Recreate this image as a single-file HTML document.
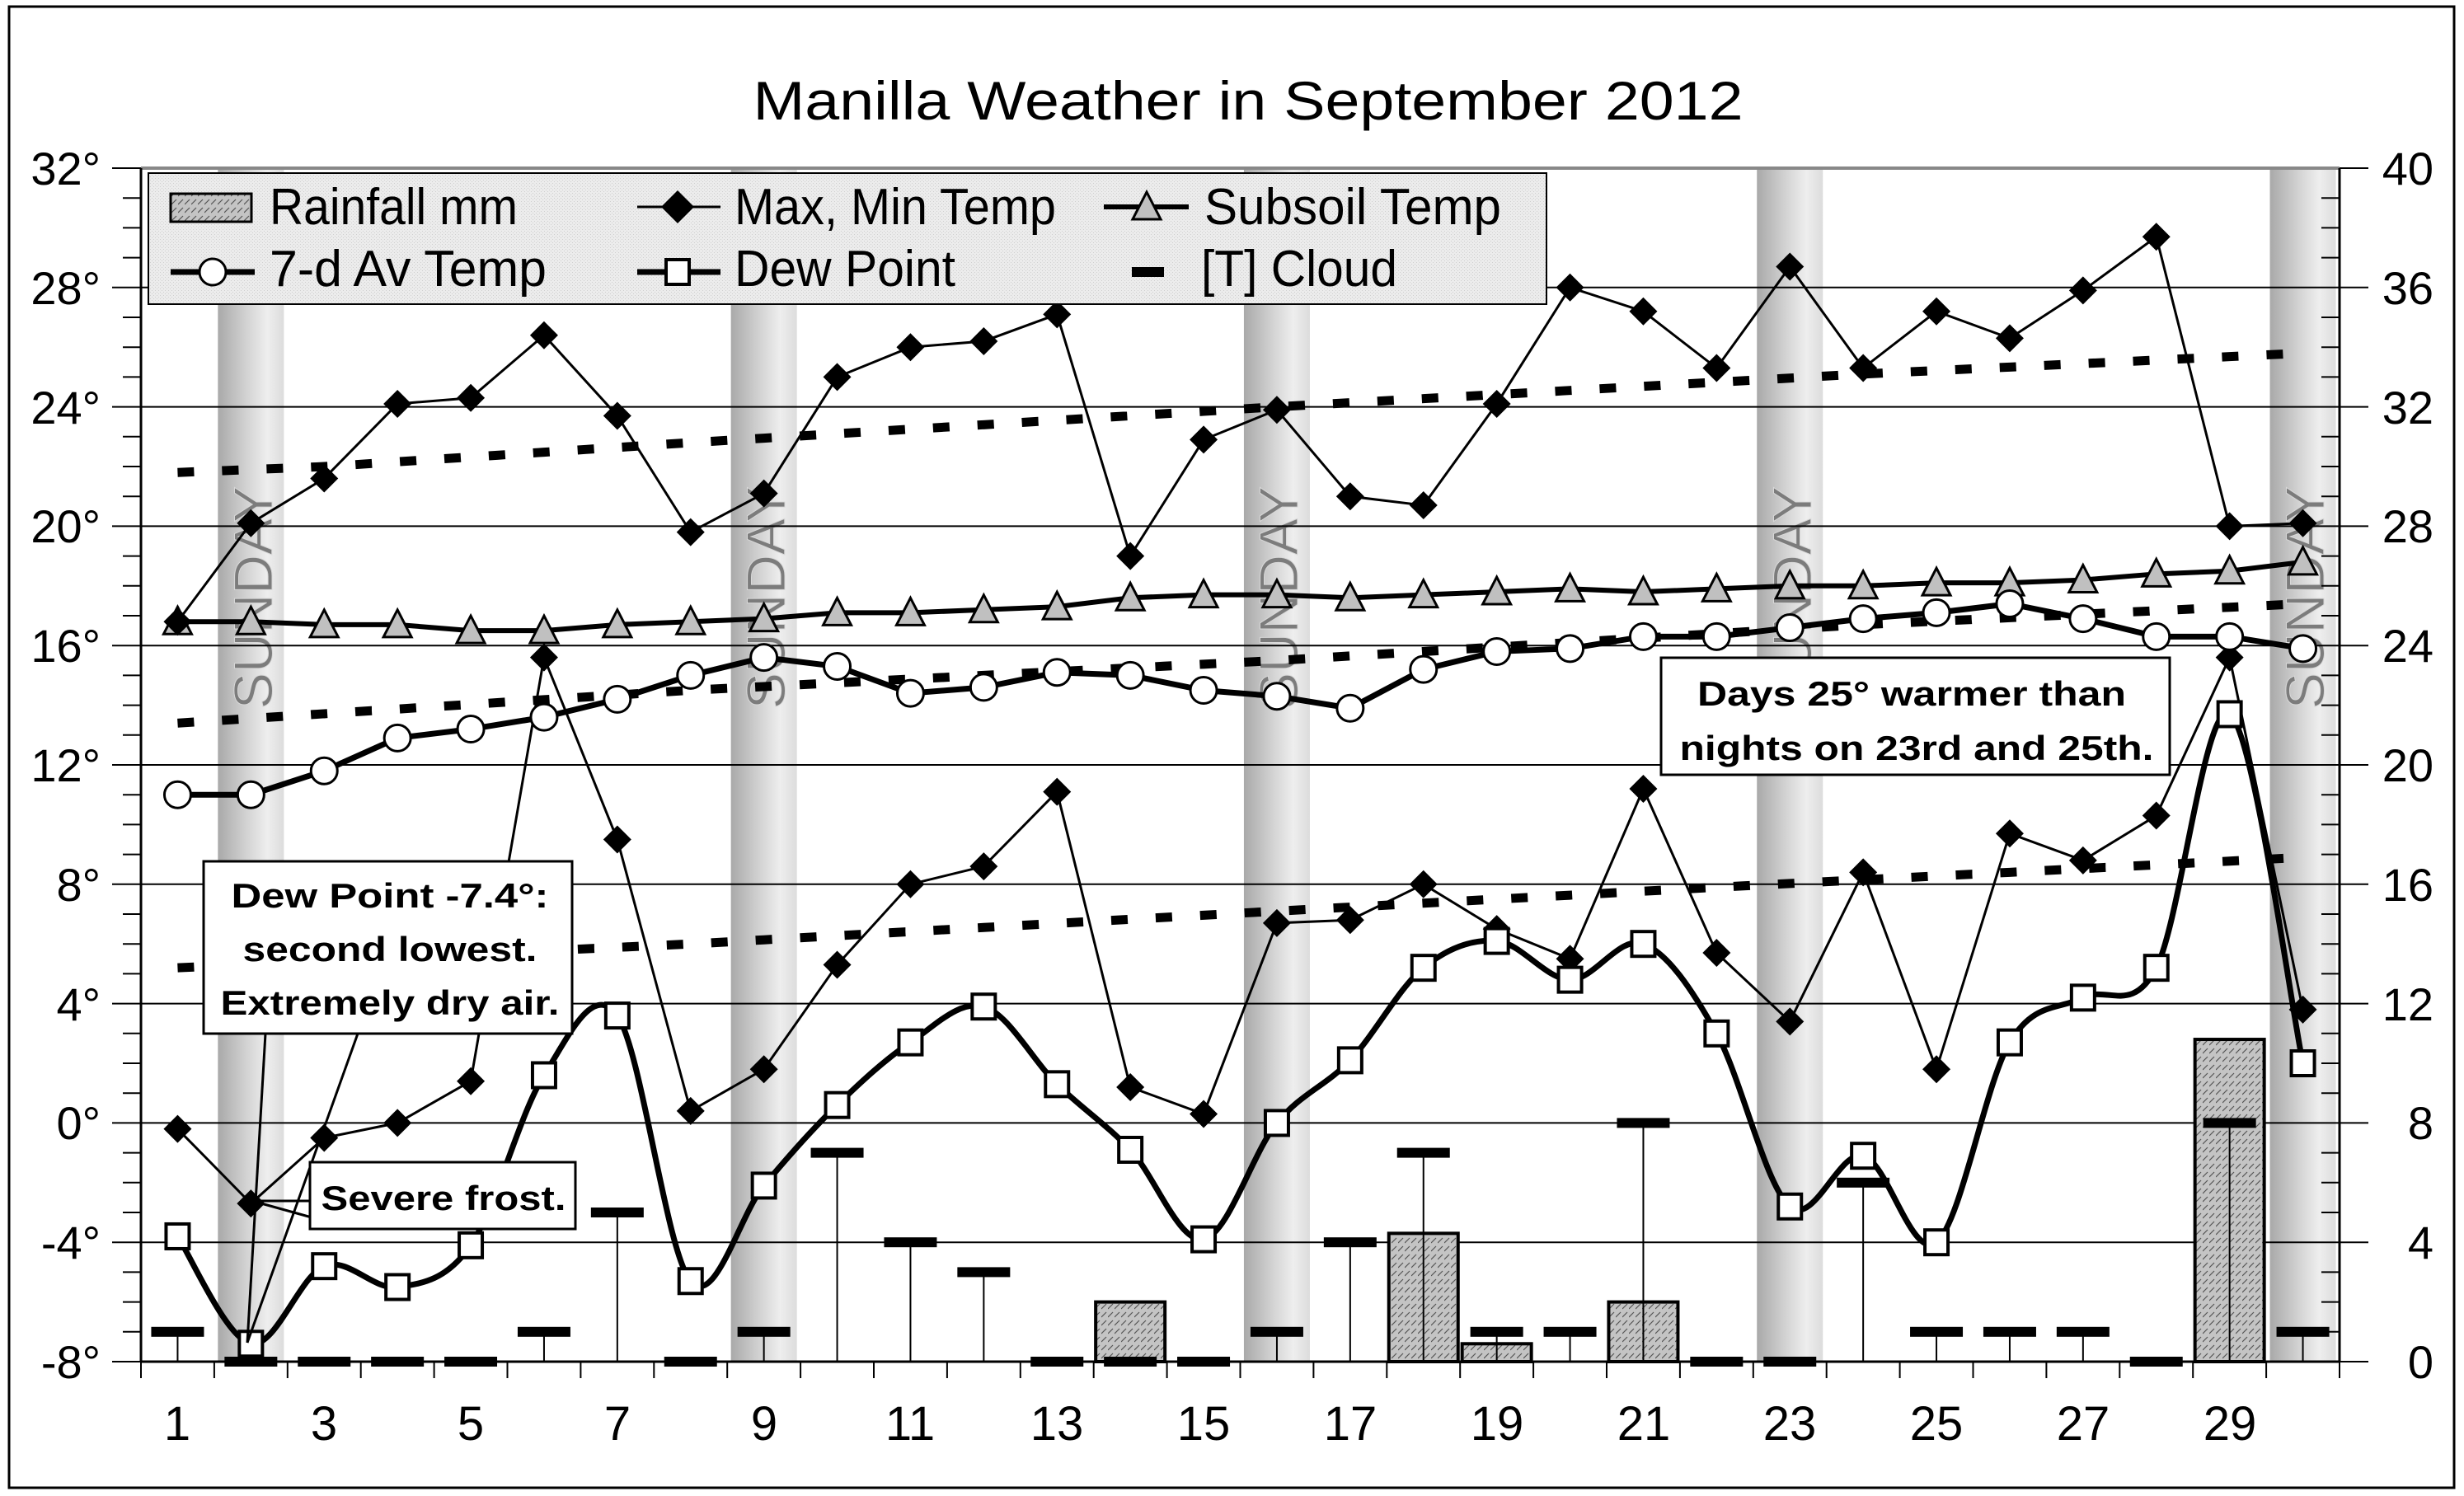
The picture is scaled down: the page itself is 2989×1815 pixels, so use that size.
<!DOCTYPE html>
<html><head><meta charset="utf-8"><style>
html,body{margin:0;padding:0;background:#fff;}
svg{display:block;font-family:"Liberation Sans",Arial,sans-serif;}
</style></head><body>
<svg id="s" width="2989" height="1815" viewBox="0 0 2989 1815" xmlns="http://www.w3.org/2000/svg">
<defs>
<linearGradient id="band" x1="0" x2="1" y1="0" y2="0">
<stop offset="0" stop-color="#a9a9a9"/><stop offset="0.45" stop-color="#d4d4d4"/><stop offset="0.75" stop-color="#eeeeee"/><stop offset="1" stop-color="#dcdcdc"/>
</linearGradient>
<pattern id="hatch" width="8" height="10" patternUnits="userSpaceOnUse">
<rect width="8" height="10" fill="#c4c4c4"/>
<path d="M0,8 L6,2" stroke="#555" stroke-width="1.2"/>
</pattern>
<pattern id="stip" width="4" height="4" patternUnits="userSpaceOnUse">
<rect width="4" height="4" fill="#ececec"/><rect width="1" height="1" fill="#cfcfcf"/><rect x="2" y="2" width="1" height="1" fill="#cfcfcf"/>
</pattern>
</defs>
<rect x="11" y="8" width="2966" height="1797" fill="#fff" stroke="#000" stroke-width="3"/>
<text x="1514" y="145" font-size="66" text-anchor="middle" textLength="1201" lengthAdjust="spacingAndGlyphs">Manilla Weather in September 2012</text>
<g id="bands"></g>
<g id="sun" font-size="66" fill="#7c7c7c" stroke="#d8d8d8" stroke-width="1">
<text transform="translate(330,725) rotate(-90)" text-anchor="middle">SUNDAY</text>
<text transform="translate(952,725) rotate(-90)" text-anchor="middle">SUNDAY</text>
<text transform="translate(1574,725) rotate(-90)" text-anchor="middle">SUNDAY</text>
<text transform="translate(2197,725) rotate(-90)" text-anchor="middle">SUNDAY</text>
<text transform="translate(2819,725) rotate(-90)" text-anchor="middle">SUNDAY</text>
</g>
<g id="grid"></g>
<g id="data"></g>
<g id="ylab" font-size="56" text-anchor="end">
<text x="122" y="224">32°</text><text x="122" y="369">28°</text><text x="122" y="514">24°</text><text x="122" y="658">20°</text><text x="122" y="803">16°</text><text x="122" y="948">12°</text><text x="122" y="1093">8°</text><text x="122" y="1238">4°</text><text x="122" y="1382">0°</text><text x="122" y="1527">-4°</text><text x="122" y="1672">-8°</text>
</g>
<g font-size="56" text-anchor="end">
<text x="2952" y="224">40</text><text x="2952" y="369">36</text><text x="2952" y="514">32</text><text x="2952" y="658">28</text><text x="2952" y="803">24</text><text x="2952" y="948">20</text><text x="2952" y="1093">16</text><text x="2952" y="1238">12</text><text x="2952" y="1382">8</text><text x="2952" y="1527">4</text><text x="2952" y="1672">0</text>
</g>
<g font-size="58" text-anchor="middle">
<text x="215" y="1747">1</text><text x="393" y="1747">3</text><text x="571" y="1747">5</text><text x="749" y="1747">7</text><text x="927" y="1747">9</text><text x="1104" y="1747">11</text><text x="1282" y="1747">13</text><text x="1460" y="1747">15</text><text x="1638" y="1747">17</text><text x="1816" y="1747">19</text><text x="1994" y="1747">21</text><text x="2171" y="1747">23</text><text x="2349" y="1747">25</text><text x="2527" y="1747">27</text><text x="2705" y="1747">29</text>
</g>
<rect x="180" y="210" width="1696" height="159" fill="url(#stip)" stroke="#000" stroke-width="2"/>
<rect x="207" y="235" width="98" height="34" fill="url(#hatch)" stroke="#000" stroke-width="3"/>
<g font-size="62">
<text x="327" y="272" textLength="301" lengthAdjust="spacingAndGlyphs">Rainfall mm</text>
<text x="891" y="272" textLength="390" lengthAdjust="spacingAndGlyphs">Max, Min Temp</text>
<text x="1461" y="272" textLength="360" lengthAdjust="spacingAndGlyphs">Subsoil Temp</text>
<text x="327" y="347" textLength="336" lengthAdjust="spacingAndGlyphs">7-d Av Temp</text>
<text x="891" y="347" textLength="268" lengthAdjust="spacingAndGlyphs">Dew Point</text>
<text x="1457" y="347" textLength="238" lengthAdjust="spacingAndGlyphs">[T] Cloud</text>
</g>
<g id="leg"></g>
<g stroke="#000" stroke-width="3" fill="none">
<line x1="322" y1="1254" x2="300" y2="1629"/><line x1="434" y1="1254" x2="300" y2="1629"/>
<line x1="378" y1="1457" x2="306" y2="1457"/><line x1="378" y1="1477" x2="306" y2="1457"/>
</g>
<rect x="247" y="1045" width="447" height="209" fill="#fff" stroke="#000" stroke-width="3"/>
<rect x="376" y="1410" width="322" height="81" fill="#fff" stroke="#000" stroke-width="3"/>
<rect x="2015" y="798" width="617" height="142" fill="#fff" stroke="#000" stroke-width="3"/>
<g font-size="42" font-weight="bold" text-anchor="middle">
<text x="473" y="1101" textLength="385" lengthAdjust="spacingAndGlyphs">Dew Point  -7.4°:</text>
<text x="473" y="1166" textLength="357" lengthAdjust="spacingAndGlyphs">second lowest.</text>
<text x="473" y="1231" textLength="411" lengthAdjust="spacingAndGlyphs">Extremely dry air.</text>
<text x="538" y="1468" textLength="297" lengthAdjust="spacingAndGlyphs">Severe frost.</text>
<text x="2319" y="856" textLength="520" lengthAdjust="spacingAndGlyphs">Days 25° warmer than</text>
<text x="2325" y="922" textLength="575" lengthAdjust="spacingAndGlyphs">nights on 23rd and 25th.</text>
</g>
</svg>
<script>
(function(){
var NS="http://www.w3.org/2000/svg";
function X(d){return 171+(d-0.5)*88.9;}
function Y(t){return 1652-(t+8)*36.2;}
function el(p,n,a){var e=document.createElementNS(NS,n);for(var k in a)e.setAttribute(k,a[k]);p.appendChild(e);return e;}
var bands=document.getElementById('bands'),grid=document.getElementById('grid'),g=document.getElementById('data'),leg=document.getElementById('leg');
[2,9,16,23,30].forEach(function(d){var x=X(d)-40;var w=80;if(x+w>2838)w=2838-x;el(bands,'rect',{x:x,y:204,width:w,height:1448,fill:'url(#band)'});});
for(var t=-4;t<=28;t+=4){el(grid,'line',{x1:171,x2:2838,y1:Y(t),y2:Y(t),stroke:'#000','stroke-width':2});}
el(grid,'line',{x1:171,x2:2838,y1:204,y2:204,stroke:'#888','stroke-width':4});
el(grid,'line',{x1:171,x2:171,y1:204,y2:1652,stroke:'#000','stroke-width':3});
el(grid,'line',{x1:2838,x2:2838,y1:204,y2:1652,stroke:'#000','stroke-width':3});
el(grid,'line',{x1:171,x2:2838,y1:1652,y2:1652,stroke:'#000','stroke-width':3});
for(var t=-8;t<=32;t++){var L=(t%4==0)?35:22;el(grid,'line',{x1:171-L,x2:171,y1:Y(t),y2:Y(t),stroke:'#000','stroke-width':2});if(t%4==0)el(grid,'line',{x1:2838,x2:2873,y1:Y(t),y2:Y(t),stroke:'#000','stroke-width':2});else el(grid,'line',{x1:2816,x2:2838,y1:Y(t),y2:Y(t),stroke:'#000','stroke-width':2});}
for(var d=0;d<=30;d++){var x=171+d*88.9;el(grid,'line',{x1:x,x2:x,y1:1652,y2:1672,stroke:'#000','stroke-width':2});}
var rain={14:2,18:4.3,19:0.6,21:2,29:10.8};
for(var d in rain){var r=rain[d];el(g,'rect',{x:X(+d)-42,y:Y(r-8),width:84,height:1652-Y(r-8),fill:'url(#hatch)',stroke:'#000','stroke-width':4});}
var cl=[1,0,0,0,0,1,5,0,1,7,4,3,0,0,0,1,4,7,1,1,8,0,0,6,1,1,1,0,8,1];
cl.forEach(function(c,i){var d=i+1,y=Y(c-8);if(c>0)el(g,'line',{x1:X(d),x2:X(d),y1:y,y2:1652,stroke:'#000','stroke-width':2});el(g,'rect',{x:X(d)-32,y:y-6,width:64,height:12,fill:'#000'});});
function interp(pts){var o=[];for(var d=1;d<=30;d++){for(var i=0;i<pts.length-1;i++){if(d>=pts[i][0]&&d<=pts[i+1][0]){var f=(d-pts[i][0])/(pts[i+1][0]-pts[i][0]);o.push(pts[i][1]+f*(pts[i+1][1]-pts[i][1]));break;}}}return o;}
function smooth(vals){var P=vals.map(function(v,i){return [X(i+1),Y(v)];});var s='M'+P[0][0]+','+P[0][1];for(var i=0;i<P.length-1;i++){var p0=P[Math.max(i-1,0)],p1=P[i],p2=P[i+1],p3=P[Math.min(i+2,P.length-1)];s+=' C'+(p1[0]+(p2[0]-p0[0])/6)+','+(p1[1]+(p2[1]-p0[1])/6)+' '+(p2[0]-(p3[0]-p1[0])/6)+','+(p2[1]-(p3[1]-p1[1])/6)+' '+p2[0]+','+p2[1];}return s;}
function poly(vals){return vals.map(function(v,i){return (i?'L':'M')+X(i+1)+','+Y(v);}).join(' ');}
[[[1,21.8],[3,22.0],[8,22.8],[16,24.0],[24,25.1],[30,25.8]],[[1,13.4],[8,14.5],[16,15.5],[24,16.7],[30,17.4]],[[1,5.2],[8,6.0],[16,7.1],[22,7.9],[30,8.9]]].forEach(function(p){el(g,'path',{d:smooth(interp(p)),fill:'none',stroke:'#000','stroke-width':11,'stroke-dasharray':'20 34'});});
var mx=[16.8,20.1,21.6,24.1,24.3,26.4,23.7,19.8,21.1,25.0,26.0,26.2,27.1,19.0,22.9,23.9,21.0,20.7,24.1,28.0,27.2,25.3,28.7,25.3,27.2,26.3,27.9,29.7,20.0,20.1];
var mn=[-0.2,-2.7,-0.5,0.0,1.4,15.6,9.5,0.4,1.8,5.3,8.0,8.6,11.1,1.2,0.3,6.7,6.8,8.0,6.5,5.5,11.2,5.7,3.4,8.4,1.8,9.7,8.8,10.3,15.6,3.8];
var ss=[16.8,16.8,16.7,16.7,16.5,16.5,16.7,16.8,16.9,17.1,17.1,17.2,17.3,17.6,17.7,17.7,17.6,17.7,17.8,17.9,17.8,17.9,18.0,18.0,18.1,18.1,18.2,18.4,18.5,18.8];
var av=[11.0,11.0,11.8,12.9,13.2,13.6,14.2,15.0,15.6,15.3,14.4,14.6,15.1,15.0,14.5,14.3,13.9,15.2,15.8,15.9,16.3,16.3,16.6,16.9,17.1,17.4,16.9,16.3,16.3,15.9];
var dw=[-3.8,-7.4,-4.8,-5.5,-4.1,1.6,3.6,-5.3,-2.1,0.6,2.7,3.9,1.3,-0.9,-3.9,0.0,2.1,5.2,6.1,4.8,6.0,3.0,-2.8,-1.1,-4.0,2.7,4.2,5.2,13.7,2.0];
function diamond(p,x,y,s){el(p,'path',{d:'M'+x+','+(y-s)+' L'+(x+s)+','+y+' L'+x+','+(y+s)+' L'+(x-s)+','+y+'Z',fill:'#000'});}
function tri(p,x,y){el(p,'path',{d:'M'+x+','+(y-18)+' L'+(x+17)+','+(y+15)+' L'+(x-17)+','+(y+15)+'Z',fill:'#c0c0c0',stroke:'#000','stroke-width':3});}
function circ(p,x,y){el(p,'circle',{cx:x,cy:y,r:16,fill:'#fff',stroke:'#000','stroke-width':3});}
function sq(p,x,y){el(p,'rect',{x:x-14,y:y-15,width:28,height:30,fill:'#fff',stroke:'#000','stroke-width':4});}
el(g,'path',{d:poly(ss),fill:'none',stroke:'#000','stroke-width':6});
ss.forEach(function(v,i){tri(g,X(i+1),Y(v));});
[mx,mn].forEach(function(a){el(g,'path',{d:poly(a),fill:'none',stroke:'#000','stroke-width':3});});
[mx,mn].forEach(function(a){a.forEach(function(v,i){diamond(g,X(i+1),Y(v),17);});});
el(g,'path',{d:poly(av),fill:'none',stroke:'#000','stroke-width':7});
av.forEach(function(v,i){circ(g,X(i+1),Y(v));});
el(g,'path',{d:smooth(dw),fill:'none',stroke:'#000','stroke-width':7});
dw.forEach(function(v,i){sq(g,X(i+1),Y(v));});
el(leg,'line',{x1:773,x2:874,y1:251,y2:251,stroke:'#000','stroke-width':3});diamond(leg,822,251,20);
el(leg,'line',{x1:1339,x2:1442,y1:251,y2:251,stroke:'#000','stroke-width':6});tri(leg,1391,251);
el(leg,'line',{x1:207,x2:309,y1:330,y2:330,stroke:'#000','stroke-width':7});circ(leg,258,330);
el(leg,'line',{x1:773,x2:874,y1:330,y2:330,stroke:'#000','stroke-width':7});sq(leg,822,330);
el(leg,'rect',{x:1373,y:324,width:39,height:12,fill:'#000'});
})();
</script>
</body></html>
